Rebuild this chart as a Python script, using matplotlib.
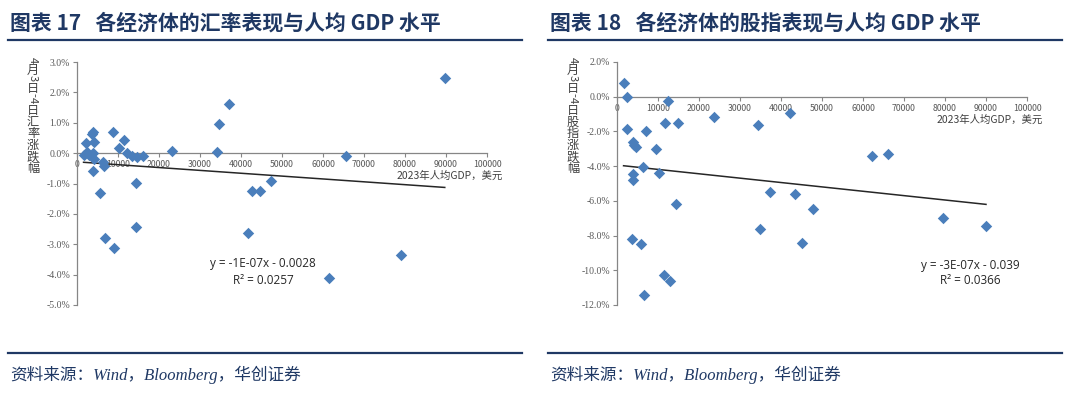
import numpy as np
import matplotlib
matplotlib.use("Agg")
from matplotlib import pyplot as plt
from matplotlib.lines import Line2D

plt.rcParams['font.family'] = ['Noto Sans CJK SC', 'DejaVu Sans']
plt.rcParams['axes.unicode_minus'] = False

# =============================================================================
# data
# =============================================================================

# chart 17: fx change vs gdp per capita
gdp_fx = [1600, 2100, 2500, 3000, 3600, 3950, 4200, 4000, 4200, 3800, 6400, 6500,
          5700, 6800, 9100, 8900, 10200, 11500, 12300, 13300, 14700, 16100, 14300,
          14300, 23200, 34200, 34700, 37100, 41700, 42700, 44600, 47400, 65600,
          89700, 61500, 79000]
chg_fx = [-0.07, 0.33, 0.05, -0.05, 0.62, 0.71, 0.37, 0.0, -0.18, -0.59, -0.30, -0.44,
          -1.30, -2.79, -3.13, 0.71, 0.17, 0.42, 0.01, -0.11, -0.14, -0.08, -0.97,
          -2.44, 0.08, 0.04, 0.95, 1.61, -2.64, -1.26, -1.25, -0.93, -0.11,
          2.46, -4.10, -3.34]

# chart 18: equity index change vs gdp per capita
gdp_eq = [1600, 2500, 12500, 2400, 7000, 11600, 14900, 3800, 4200, 4600, 9400, 6450,
          4000, 4000, 10300, 14400, 23600, 34500, 42200, 37300, 43400, 34900, 45000,
          3750, 5800, 11400, 12900, 6600, 62100, 66200, 47700, 79500, 90000]
chg_eq = [0.78, -0.03, -0.26, -1.85, -2.0, -1.5, -1.52, -2.6, -2.77, -2.9, -3.03, -4.05,
          -4.43, -4.82, -4.4, -6.17, -1.19, -1.61, -0.96, -5.5, -5.63, -7.64, -8.4,
          -8.18, -8.5, -10.27, -10.6, -11.42, -3.41, -3.28, -6.48, -6.98, -7.45]

xticks = [0, 10000, 20000, 30000, 40000, 50000, 60000, 70000, 80000, 90000, 100000]
yticks_fx = [3, 2, 1, 0, -1, -2, -3, -4, -5]
yticks_eq = [2, 0, -2, -4, -6, -8, -10, -12]

eq_text_fx = 'y = -1E-07x - 0.0028\nR² = 0.0257'
eq_text_eq = 'y = -3E-07x - 0.039\nR² = 0.0366'

title_fx = '图表 17   各经济体的汇率表现与人均 GDP 水平'
title_eq = '图表 18   各经济体的股指表现与人均 GDP 水平'
ylab_fx = '4月3日-4日汇率涨跌幅'
ylab_eq = '4月3日-4日股指涨跌幅'
xlab = '2023年人均GDP，美元'
source = '资料来源：Wind，Bloomberg，华创证券'

W, H = 1080, 397
navy = '#1F3864'
blue = '#4A7EBB'
grey = '#595959'


def fx(x):
    return x / W


def fy(y):
    return 1 - y / H


def vlabel(fig, x, ytop, text):
    # excel style stacked vertical label
    y = ytop
    for ch in text:
        if ch.isdigit() or ch == '-':
            h = 6.5 if ch.isdigit() else 4
            fig.text(fx(x), fy(y + h / 2), ch, rotation=270, fontsize=8,
                     color='#404040', ha='center', va='center')
        else:
            h = 11.5
            fig.text(fx(x), fy(y + h / 2 + 1.5), ch, fontsize=8.8,
                     color='#404040', ha='center', va='center')
        y += h


def panel(fig, x0, title, gdp, chg, ylim, yticks, eq_text, eq_xy, ylab):

    # title + rules
    fig.text(fx(x0 - 67), fy(23), title, fontsize=15, fontweight='bold',
             color=navy, va='center')
    fig.add_artist(Line2D([fx(x0 - 69), fx(x0 + 445)], [fy(40), fy(40)],
                          color=navy, lw=1.6))
    fig.add_artist(Line2D([fx(x0 - 69), fx(x0 + 445)], [fy(353), fy(353)],
                          color=navy, lw=1.6))
    fig.text(fx(x0 - 67), fy(375), source, fontsize=12, color=navy,
             style='italic', va='center',
             family=['Liberation Serif', 'Noto Sans CJK SC'])

    ax = fig.add_axes([fx(x0), fy(305), fx(410), 243 / H])
    x = np.array(gdp)
    y = np.array(chg) / 100
    ax.scatter(x, y, marker='D', s=34, color=blue, zorder=3, linewidths=0)

    k, b = np.polyfit(x, y, 1)
    xx = np.array([x.min(), x.max()])
    ax.plot(xx, k * xx + b, color='#262626', lw=1.1, zorder=2)

    ax.set_xlim(0, 100000)
    ax.set_ylim(ylim)
    ax.set_xticks(xticks)
    ax.set_xticklabels([str(t) for t in xticks], family='Liberation Sans')
    ax.set_yticks([t / 100 for t in yticks])
    ax.set_yticklabels(['%.1f%%' % t for t in yticks], family='Liberation Serif')

    for s in ['top', 'right']:
        ax.spines[s].set_visible(False)
    ax.spines['bottom'].set_position(('data', 0))
    for s in ['left', 'bottom']:
        ax.spines[s].set_color('#868686')
        ax.spines[s].set_linewidth(0.9)
    ax.tick_params(axis='y', length=3, width=0.8, color='#868686',
                   labelsize=7, labelcolor=grey, pad=2)
    ax.tick_params(axis='x', length=3, width=0.8, color='#868686',
                   labelsize=6.3, labelcolor=grey, pad=2)
    ax.patch.set_alpha(0)

    # axis titles
    y0_px = 62 + 243 * ylim[1] / (ylim[1] - ylim[0])
    fig.text(fx(x0 + 426), fy(y0_px + 23), xlab, fontsize=7.5, color='#404040',
             ha='right', va='center')
    vlabel(fig, x0 - 44, 57, ylab)

    fig.text(fx(x0 + eq_xy[0]), fy(eq_xy[1]), eq_text, fontsize=8.5,
             color='#262626', ha='center', va='center', linespacing=1.3,
             family=['Open Sans', 'DejaVu Sans'])
    return ax


fig = plt.figure(figsize=(10.8, 3.97), dpi=100)

panel(fig, 77, title_fx, gdp_fx, chg_fx, (-0.05, 0.03), yticks_fx,
      eq_text_fx, (186, 272), ylab_fx)
panel(fig, 617, title_eq, gdp_eq, chg_eq, (-0.12, 0.02), yticks_eq,
      eq_text_eq, (353, 273), ylab_eq)

fig.savefig('out.png', dpi=100)
